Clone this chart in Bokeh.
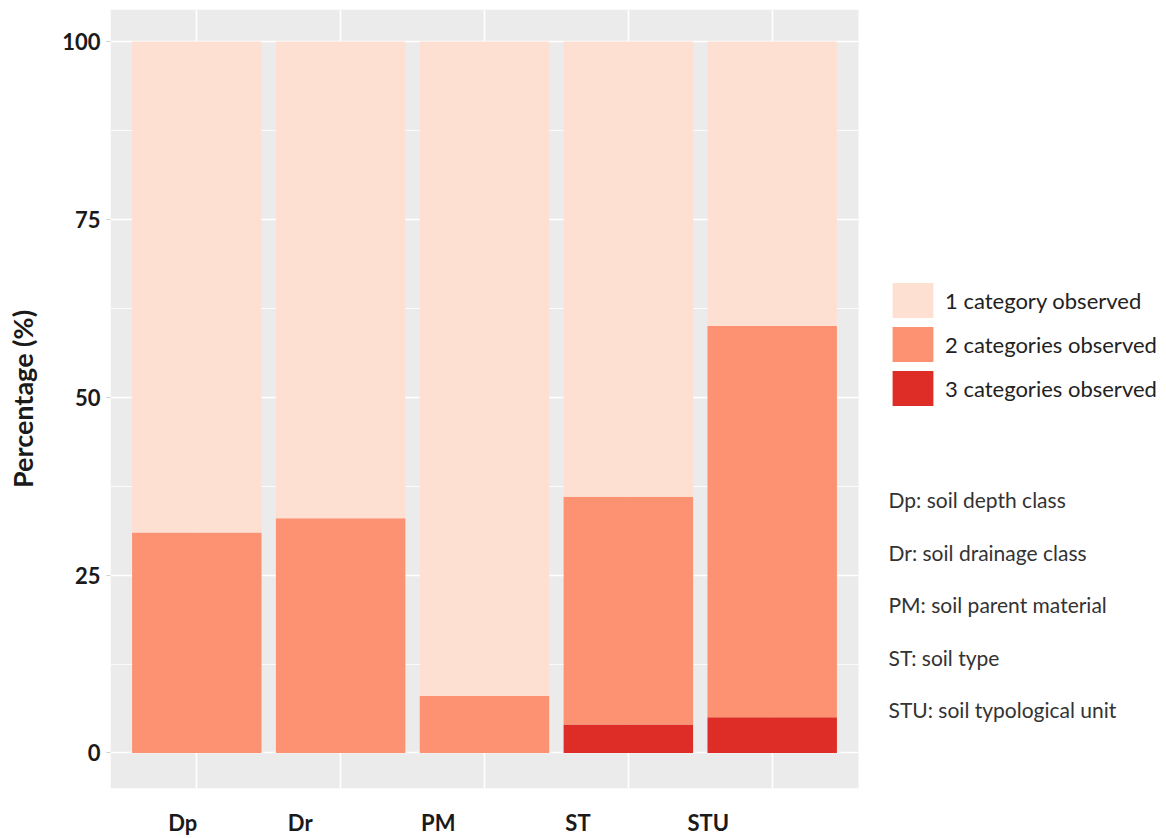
from bokeh.plotting import figure
from bokeh.models import (Range1d, FixedTicker, LinearAxis, Legend, LegendItem,
                          Label, ColumnDataSource, BoxAnnotation)
from bokeh.embed import file_html
from bokeh.resources import INLINE

# ---------------- data ----------------
categories = ["Dp", "Dr", "PM", "ST", "STU"]
three_cat = [0, 0, 0, 4, 5]
two_cat = [31, 33, 8, 32, 55]
one_cat = [100 - a - b for a, b in zip(two_cat, three_cat)]
series_labels = ["1 category observed", "2 categories observed", "3 categories observed"]
notes = ["Dp: soil depth class", "Dr: soil drainage class", "PM: soil parent material",
         "ST: soil type", "STU: soil typological unit"]
y_ticks = [0, 25, 50, 75, 100]
y_title = "Percentage (%)"

# ---------------- style ----------------
C1, C2, C3 = "#FEE0D2", "#FC9272", "#DE2D26"
FONT = "Lato"
PANEL_BG = "#EBEBEB"
TXT = "#1A1A1A"
LABEL_SHIFT = [-0.097, -0.281, -0.321, -0.35, -0.444]   # x-label offsets (category units)
PANEL_W = 748          # width of the grey panel, px
SIDE_W = 300           # white area on the right (legend + notes), px
NOTE_X = 778           # px from the frame's left edge
NOTE_Y0 = 289          # px from the frame's bottom edge
NOTE_STEP = 52.5

xpos = [i + 1 for i in range(len(categories))]   # discrete positions of the categories
panel_start, panel_end = 0.4, len(categories) + 0.6
x_end = panel_end + (panel_end - panel_start) * SIDE_W / PANEL_W

src = ColumnDataSource(dict(x=xpos, one=one_cat, two=two_cat, three=three_cat))

p = figure(
    x_range=Range1d(panel_start, x_end),
    y_range=Range1d(-5, 104.5),
    frame_width=PANEL_W + SIDE_W, frame_height=779,
    min_border_left=110, min_border_right=0, min_border_top=9, min_border_bottom=48,
    output_backend="svg", toolbar_location=None,
    background_fill_color="white", border_fill_color="white", outline_line_color=None,
)

# grey panel background (only under the data area)
p.add_layout(BoxAnnotation(left=panel_start, right=panel_end, fill_color=PANEL_BG,
                           fill_alpha=1, line_color=None, level="image"))

rs = p.vbar_stack(["three", "two", "one"], x="x", width=0.9, source=src,
                  fill_color=[C3, C2, C1], line_color=None)

# grid
minor = [(a + b) / 2 for a, b in zip(y_ticks, y_ticks[1:])]
yt = FixedTicker(ticks=y_ticks, minor_ticks=minor)
xt = FixedTicker(ticks=xpos)
p.yaxis.ticker = yt
p.ygrid.ticker = yt
p.xgrid.ticker = xt
p.ygrid.cross_bounds = (panel_start, panel_end)
p.ygrid.grid_line_color = "white"
p.ygrid.grid_line_width = 1.6
p.ygrid.minor_grid_line_color = "white"
p.ygrid.minor_grid_line_width = 0.8
p.xgrid.grid_line_color = "white"
p.xgrid.grid_line_width = 1.6

# y axis
ya = p.yaxis[0]
ya.axis_line_color = None
ya.major_tick_out = 4
ya.major_tick_in = 0
ya.major_tick_line_color = "#D0D0D0"
ya.minor_tick_line_color = None
ya.major_label_standoff = 6
ya.major_label_text_font = FONT
ya.major_label_text_font_style = "bold"
ya.major_label_text_font_size = "22px"
ya.major_label_text_color = TXT
ya.axis_label = y_title
ya.axis_label_text_font = FONT
ya.axis_label_text_font_style = "bold"
ya.axis_label_text_font_size = "27px"
ya.axis_label_text_color = TXT
ya.axis_label_standoff = 20

# default x axis hidden; category labels on their own axis (shifted as in the original)
p.xaxis.visible = False
lab_pos = [x + s for x, s in zip(xpos, LABEL_SHIFT)]
lab_axis = LinearAxis(
    ticker=FixedTicker(ticks=lab_pos),
    major_label_overrides={t: c for t, c in zip(lab_pos, categories)},
    axis_line_color=None, major_tick_line_color=None, minor_tick_line_color=None,
    major_label_standoff=14, major_label_text_font=FONT,
    major_label_text_font_style="bold", major_label_text_font_size="22px",
    major_label_text_color=TXT,
)
p.add_layout(lab_axis, "below")

# legend (inside the white right-hand area of the frame)
items = [LegendItem(label=series_labels[0], renderers=[rs[2]]),
         LegendItem(label=series_labels[1], renderers=[rs[1]]),
         LegendItem(label=series_labels[2], renderers=[rs[0]])]
legend = Legend(items=items, location=(777, 378), glyph_width=51, glyph_height=44,
                spacing=0, padding=0, margin=0, label_standoff=7,
                border_line_color=None, background_fill_alpha=0,
                label_text_font=FONT, label_text_font_size="22px",
                label_text_color="#222222")
p.add_layout(legend)

# notes
for i, t in enumerate(notes):
    p.add_layout(Label(x=NOTE_X, y=NOTE_Y0 - i * NOTE_STEP, x_units="screen", y_units="screen",
                       text=t, text_font=FONT, text_font_size="21px", text_color="#333333",
                       text_baseline="middle", text_align="left"))

open("out.html", "w").write(file_html(p, INLINE))
